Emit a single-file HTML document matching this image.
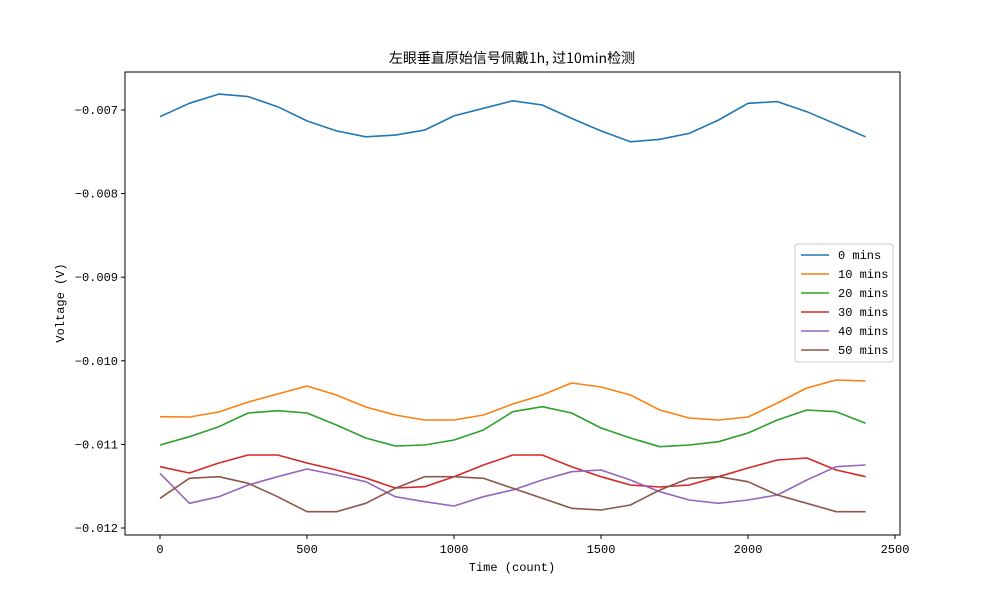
<!DOCTYPE html>
<html><head><meta charset="utf-8"><style>
body{margin:0;background:#fff;}
svg text{font-family:"Liberation Mono","Noto Sans CJK SC",monospace;font-size:12px;fill:#000;}
</style></head><body>
<svg id="chart" width="1000" height="600" xmlns="http://www.w3.org/2000/svg">
<rect width="1000" height="600" fill="#fff"/>
<text x="512" y="63" text-anchor="middle" style="font-family:'Noto Sans CJK SC',sans-serif;font-size:14px">左眼垂直原始信号佩戴1h, 过10min检测</text>
<rect x="125" y="72" width="775" height="463" fill="none" stroke="#000" stroke-width="1"/>
<g id="xticks"></g>
<g id="yticks"></g>
<g id="series"></g>
<text x="512" y="571" text-anchor="middle">Time (count)</text>
<text transform="translate(64,303) rotate(-90)" text-anchor="middle">Voltage (V)</text>
<g id="legend"></g>
</svg>
<script>
const counts=[0,100,200,300,400,500,600,700,800,900,1000,1100,1200,1300,1400,1500,1600,1700,1800,1900,2000,2100,2200,2300,2400];
const s0=[-0.00708,-0.00692,-0.00681,-0.00684,-0.00696,-0.00713,-0.00725,-0.00732,-0.00730,-0.00724,-0.00707,-0.00698,-0.00689,-0.00694,-0.00710,-0.00725,-0.00738,-0.00735,-0.00728,-0.00712,-0.00692,-0.00690,-0.00702,-0.00717,-0.00732];
const s10=[-0.010669,-0.010672,-0.010612,-0.010493,-0.010397,-0.010301,-0.010409,-0.010553,-0.010648,-0.010708,-0.010708,-0.010648,-0.010517,-0.010409,-0.010266,-0.010313,-0.010409,-0.010589,-0.010684,-0.010708,-0.010672,-0.010505,-0.010325,-0.010230,-0.010242];
const s20=[-0.011007,-0.010908,-0.010788,-0.010624,-0.010597,-0.010624,-0.010768,-0.010923,-0.011019,-0.011007,-0.010947,-0.010828,-0.010609,-0.010549,-0.010624,-0.010804,-0.010923,-0.011027,-0.011007,-0.010968,-0.010864,-0.010708,-0.010589,-0.010609,-0.010748];
const s30=[-0.011267,-0.011342,-0.011222,-0.011127,-0.011127,-0.011222,-0.011306,-0.011402,-0.011522,-0.011506,-0.011386,-0.011246,-0.011127,-0.011127,-0.011267,-0.011386,-0.011486,-0.011510,-0.011486,-0.011386,-0.011282,-0.011187,-0.011163,-0.011306,-0.011386];
const s40=[-0.011346,-0.011705,-0.011626,-0.011486,-0.011386,-0.011294,-0.011366,-0.011446,-0.011626,-0.011685,-0.011737,-0.011626,-0.011545,-0.011426,-0.011327,-0.011306,-0.011426,-0.011566,-0.011665,-0.011705,-0.011665,-0.011605,-0.011426,-0.011267,-0.011246];
const s50=[-0.011645,-0.011406,-0.011386,-0.011465,-0.011626,-0.011805,-0.011805,-0.011705,-0.011525,-0.011386,-0.011386,-0.011406,-0.011525,-0.011645,-0.011764,-0.011785,-0.011725,-0.011545,-0.011406,-0.011386,-0.011446,-0.011605,-0.011705,-0.011805,-0.011805];
const seriesNames=["0 mins","10 mins","20 mins","30 mins","40 mins","50 mins"];
const colors=["#1f77b4","#ff7f0e","#2ca02c","#d62728","#9467bd","#8c564b"];
const xTicks=[0,500,1000,1500,2000,2500];
const yTicks=[-0.007,-0.008,-0.009,-0.010,-0.011,-0.012];
const yTickLabels=["−0.007","−0.008","−0.009","−0.010","−0.011","−0.012"];
const NS="http://www.w3.org/2000/svg";
const X=c=>160+c*0.294;
const Y=v=>110+(-0.007-v)/0.001*83.6;
function mk(tag,attrs,parent){const e=document.createElementNS(NS,tag);for(const k in attrs)e.setAttribute(k,attrs[k]);parent.appendChild(e);return e;}
const xg=document.getElementById('xticks');
xTicks.forEach(t=>{
  const l=mk('line',{x1:X(t),x2:X(t),y1:535,y2:539,stroke:'#000'},xg);
  
  
  const tx=mk('text',{x:X(t),y:553,'text-anchor':'middle'},xg);tx.textContent=t;
  
  
});
const yg=document.getElementById('yticks');
yTicks.forEach((t,i)=>{
  const l=mk('line',{x1:121,x2:125,y1:Y(t),y2:Y(t),stroke:'#000'},yg);
  
  
  const tx=mk('text',{x:118,y:Y(t)+4,'text-anchor':'end'},yg);tx.textContent=yTickLabels[i];
  
  
});
const sg=document.getElementById('series');
[s0,s10,s20,s30,s40,s50].forEach((s,i)=>{
  const p=mk('polyline',{points:s.map((v,j)=>X(counts[j]).toFixed(1)+','+Y(v).toFixed(1)).join(' '),fill:'none',stroke:colors[i],'stroke-width':1.6,'stroke-linejoin':'round'},sg);
  
  
});
const lg=document.getElementById('legend');
const box=mk('rect',{x:795,y:244,width:98,height:118,rx:3,fill:'#fff',stroke:'#ccc'},lg);


seriesNames.forEach((n,i)=>{
  const y=255+i*19;
  const l=mk('line',{x1:801,x2:829,y1:y,y2:y,stroke:colors[i],'stroke-width':1.6},lg);
  
  
  const t=mk('text',{x:838,y:y+4},lg);t.textContent=n;
  
  
});
</script>
</body></html>
